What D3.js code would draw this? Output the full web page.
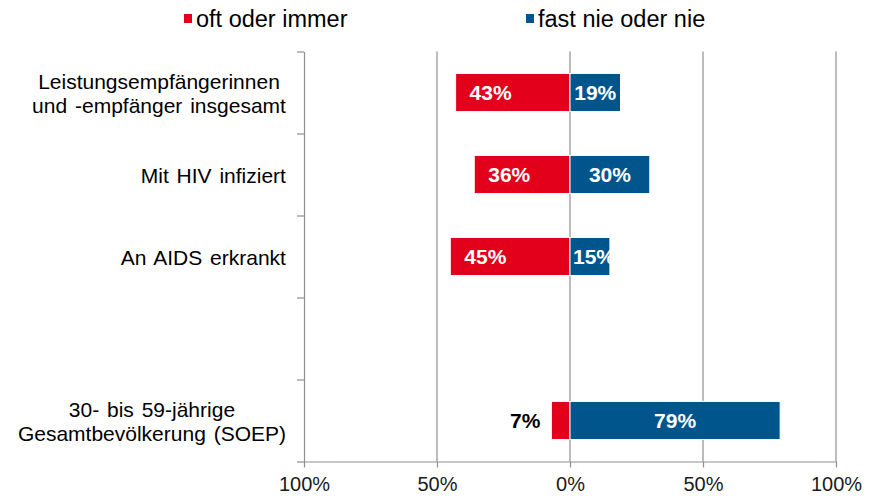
<!DOCTYPE html>
<html>
<head>
<meta charset="utf-8">
<script src="https://cdn.jsdelivr.net/npm/d3@7"></script>
<style>
    body { margin: 0; background: #fff; }
    svg { display: block; font-family: Arial, "Liberation Sans", sans-serif; }
    .grid-line { stroke: #8f8f8f; stroke-width: 1.2px; }
    .axis path, .axis line { stroke: #8f8f8f; stroke-width: 1.2px; }
    .axis text { fill: #1a1a1a; font-size: 20px; }
</style>
</head>
<body>
<div class="chart"></div>
<script>
(function () {
    "use strict";

    // categories, top to bottom ("" = empty slot)
    var categories = [
        ["Leistungsempfängerinnen", "und -empfänger insgesamt"],
        ["Mit HIV infiziert"],
        ["An AIDS erkrankt"],
        [""],
        ["30- bis 59-jährige", "Gesamtbevölkerung (SOEP)"]
    ];
    var oftOderImmer = [43, 36, 45, null, 7];
    var fastNieOderNie = [19, 30, 15, null, 79];
    var tickValues = [-100, -50, 0, 50, 100];
    var legendLabels = ["oft oder immer", "fast nie oder nie"];

    var red = '#e2001a', blue = '#00558c';
    var width = 869, height = 499;
    var margin = { top: 51.5, right: 33, bottom: 37.5, left: 304 };
    var plotW = width - margin.left - margin.right;
    var plotH = height - margin.top - margin.bottom;

    var svg = d3.select('.chart').append('svg')
        .attr('width', width)
        .attr('height', height);

    var x = d3.scaleLinear().domain([-100, 100]).range([margin.left, margin.left + plotW]);
    var y = d3.scaleBand()
        .domain(d3.range(categories.length))
        .range([margin.top, margin.top + plotH])
        .paddingInner(0.535).paddingOuter(0.2675);
    // boundaries between categories for the left axis ticks
    var yEdge = d3.scaleLinear().domain([0, categories.length]).range([margin.top, margin.top + plotH]);

    // grid lines
    svg.append('g').selectAll('line')
        .data(tickValues.slice(1))
        .enter().append('line')
        .attr('class', 'grid-line')
        .attr('x1', function (d) { return x(d); })
        .attr('x2', function (d) { return x(d); })
        .attr('y1', margin.top)
        .attr('y2', margin.top + plotH);

    // left axis with ticks at category edges
    svg.append('g')
        .attr('class', 'axis y')
        .attr('transform', 'translate(' + x(-100) + ',0)')
        .call(d3.axisLeft(yEdge).tickValues(d3.range(categories.length + 1))
            .tickFormat('').tickSize(7).tickSizeOuter(0));

    // bottom axis
    var xAxis = svg.append('g')
        .attr('class', 'axis x')
        .attr('transform', 'translate(0,' + (margin.top + plotH) + ')')
        .call(d3.axisBottom(x).tickValues(tickValues)
            .tickFormat(function (d) { return Math.abs(d) + '%'; })
            .tickSize(6).tickSizeOuter(0));
    xAxis.selectAll('text').attr('y', 15);

    // bars
    var rows = categories.map(function (c, i) {
        return { i: i, oft: oftOderImmer[i], nie: fastNieOderNie[i] };
    }).filter(function (d) { return d.oft !== null; });

    svg.append('g').selectAll('rect')
        .data(rows)
        .enter().append('rect')
        .attr('x', function (d) { return x(-d.oft); })
        .attr('y', function (d) { return y(d.i); })
        .attr('width', function (d) { return x(0) - x(-d.oft); })
        .attr('height', y.bandwidth())
        .attr('fill', red)
        .attr('stroke', '#fff').attr('stroke-width', 1);

    svg.append('g').selectAll('rect')
        .data(rows)
        .enter().append('rect')
        .attr('x', x(0))
        .attr('y', function (d) { return y(d.i); })
        .attr('width', function (d) { return x(d.nie) - x(0); })
        .attr('height', y.bandwidth())
        .attr('fill', blue)
        .attr('stroke', '#fff').attr('stroke-width', 1);

    // value labels
    var labelG = svg.append('g')
        .style('font-size', '21px').style('font-weight', 'bold');

    rows.forEach(function (d) {
        var cy = y(d.i) + y.bandwidth() / 2;
        var left = x(-d.oft);
        var redWide = x(0) - left > 50;
        labelG.append('text')
            .attr('x', redWide ? left + 14 : left - 11)
            .attr('y', cy)
            .attr('dy', '0.35em')
            .attr('text-anchor', redWide ? 'start' : 'end')
            .attr('fill', redWide ? '#fff' : '#000')
            .text(d.oft + '%');

        var t = labelG.append('text')
            .attr('y', cy)
            .attr('dy', '0.35em')
            .attr('text-anchor', 'middle')
            .attr('fill', '#fff')
            .text(d.nie + '%');
        var w = t.node().getComputedTextLength();
        var mid = (x(0) + x(d.nie)) / 2;
        t.attr('x', Math.max(mid, x(0) + 3 + w / 2));
    });

    // category labels, each block centered and right-aligned to the axis
    var catG = svg.append('g').style('font-size', '21px').attr('fill', '#000');
    categories.forEach(function (lines, i) {
        if (!lines[0]) return;
        var cy = y(i) + y.bandwidth() / 2;
        var lh = 23.5;
        var base = cy + 8.5 - (lines.length - 1) * lh / 2;
        var t = catG.append('text').attr('text-anchor', 'middle').style('word-spacing', '2px');
        lines.forEach(function (s, k) {
            t.append('tspan').attr('x', 0).attr('y', base + k * lh).text(s);
        });
        var w = t.node().getBBox().width;
        t.selectAll('tspan').attr('x', 286 - w / 2);
    });

    // legend
    var legend = svg.append('g').style('font-size', '23.5px');
    var legendX = [184, 526];
    [red, blue].forEach(function (c, i) {
        legend.append('rect')
            .attr('x', legendX[i]).attr('y', 14)
            .attr('width', 8).attr('height', 9)
            .attr('fill', c);
        legend.append('text')
            .attr('x', legendX[i] + 12).attr('y', 27)
            .attr('fill', '#000')
            .text(legendLabels[i]);
    });
})();
</script>
</body>
</html>
